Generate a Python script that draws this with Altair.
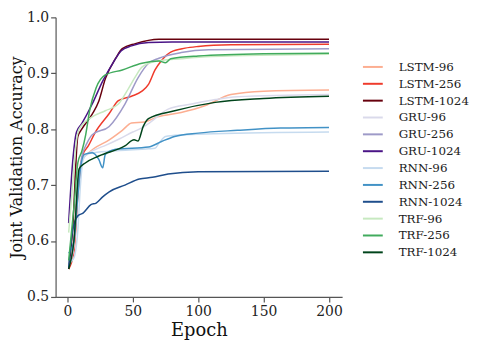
import altair as alt
import pandas as pd

names = ["LSTM-96", "LSTM-256", "LSTM-1024", "GRU-96", "GRU-256", "GRU-1024",
         "RNN-96", "RNN-256", "RNN-1024", "TRF-96", "TRF-256", "TRF-1024"]
colors = ["#fcae91", "#ef3b2c", "#67000d", "#dadaeb", "#9e9ac8", "#4a1486",
          "#c6dbef", "#4292c6", "#1f4e8c", "#c7e9c0", "#41ab5d", "#00441b"]

lstm96_ep = [1, 5, 8, 11, 15, 20, 32, 42, 49, 59, 69, 87, 105, 125, 150, 200]
lstm96_v = [0.55, 0.60, 0.70, 0.745, 0.755, 0.765, 0.781, 0.798, 0.811, 0.813, 0.822, 0.830, 0.842, 0.862, 0.868, 0.870]

lstm256_ep = [1, 5, 8, 10, 12, 16, 21, 32, 39, 49, 57, 62, 67, 72, 79, 90, 100, 125, 200]
lstm256_v = [0.55, 0.58, 0.68, 0.73, 0.755, 0.77, 0.793, 0.828, 0.851, 0.859, 0.868, 0.88, 0.906, 0.923, 0.938, 0.945, 0.948, 0.951, 0.952]

lstm1024_ep = [1, 4, 8, 11, 19, 24, 29, 37, 42, 52, 70, 100, 200]
lstm1024_v = [0.55, 0.62, 0.787, 0.800, 0.827, 0.850, 0.890, 0.927, 0.944, 0.953, 0.961, 0.961, 0.961]

gru96_ep = [1, 5, 8, 11, 15, 20, 30, 40, 50, 55, 62, 77, 95, 113, 130, 200]
gru96_v = [0.555, 0.59, 0.69, 0.745, 0.755, 0.762, 0.772, 0.783, 0.795, 0.80, 0.81, 0.836, 0.845, 0.853, 0.858, 0.862]

gru256_ep = [1, 5, 8, 11, 15, 19, 32, 44, 54, 62, 70, 87, 108, 200]
gru256_v = [0.555, 0.60, 0.70, 0.75, 0.775, 0.79, 0.805, 0.845, 0.892, 0.918, 0.927, 0.937, 0.942, 0.944]

gru1024_ep = [1, 4, 7, 11, 19, 27, 34, 41, 49, 62, 80, 200]
gru1024_v = [0.632, 0.74, 0.795, 0.810, 0.845, 0.886, 0.915, 0.940, 0.949, 0.955, 0.956, 0.956]

rnn96_ep = [1, 5, 8, 10, 12, 15, 20, 40, 62, 67, 70, 75, 87, 112, 200]
rnn96_v = [0.56, 0.57, 0.62, 0.70, 0.745, 0.755, 0.758, 0.762, 0.765, 0.766, 0.775, 0.787, 0.790, 0.792, 0.795]

rnn256_ep = [1, 5, 8, 10, 13, 19, 24, 27, 29, 37, 62, 72, 82, 100, 130, 163, 200]
rnn256_v = [0.578, 0.60, 0.68, 0.73, 0.755, 0.758, 0.746, 0.731, 0.755, 0.764, 0.768, 0.778, 0.787, 0.793, 0.798, 0.802, 0.803]

rnn1024_ep = [1, 4, 8, 12, 18, 22, 27, 32, 44, 55, 65, 77, 100, 200]
rnn1024_v = [0.552, 0.618, 0.645, 0.650, 0.665, 0.668, 0.679, 0.688, 0.700, 0.711, 0.714, 0.720, 0.724, 0.725]

trf96_ep = [1, 4, 7, 9, 19, 29, 39, 47, 52, 57, 67, 87, 110, 200]
trf96_v = [0.615, 0.70, 0.78, 0.80, 0.822, 0.833, 0.845, 0.874, 0.894, 0.911, 0.921, 0.926, 0.930, 0.934]

trf256_ep = [1, 5, 8, 11, 14, 17, 22, 29, 42, 57, 70, 75, 79, 100, 150, 200]
trf256_v = [0.565, 0.66, 0.74, 0.76, 0.79, 0.833, 0.874, 0.897, 0.906, 0.918, 0.922, 0.919, 0.926, 0.931, 0.935, 0.936]

trf1024_ep = [1, 5, 9, 14, 24, 44, 51, 54, 58, 62, 82, 113, 150, 200]
trf1024_v = [0.55, 0.60, 0.729, 0.740, 0.752, 0.770, 0.781, 0.779, 0.805, 0.819, 0.833, 0.848, 0.855, 0.859]

series = [
    (lstm96_ep, lstm96_v), (lstm256_ep, lstm256_v), (lstm1024_ep, lstm1024_v),
    (gru96_ep, gru96_v), (gru256_ep, gru256_v), (gru1024_ep, gru1024_v),
    (rnn96_ep, rnn96_v), (rnn256_ep, rnn256_v), (rnn1024_ep, rnn1024_v),
    (trf96_ep, trf96_v), (trf256_ep, trf256_v), (trf1024_ep, trf1024_v),
]

rows = []
for i, (name, (eps, vals)) in enumerate(zip(names, series)):
    for e, v in zip(eps, vals):
        rows.append({"Model": name, "Epoch": e, "Acc": v, "order": i})
df = pd.DataFrame(rows)

FONT = "DejaVu Serif"

chart = alt.Chart(df).mark_line(strokeWidth=1.5, interpolate="monotone").encode(
    x=alt.X("Epoch:Q", scale=alt.Scale(domain=[-9, 210], nice=False, zero=False),
            axis=alt.Axis(values=[0, 50, 100, 150, 200], title="Epoch", grid=False,
                          titleFontSize=18, titleFontWeight="normal", labelFontSize=14,
                          titlePadding=3, labelPadding=3)),
    y=alt.Y("Acc:Q", scale=alt.Scale(domain=[0.5, 1.0], nice=False, zero=False),
            axis=alt.Axis(values=[0.5, 0.6, 0.7, 0.8, 0.9, 1.0], format=".1f",
                          title="Joint Validation Accuracy", grid=False,
                          titleFontSize=16, titleFontWeight="normal", labelFontSize=14,
                          titlePadding=2, labelPadding=2)),
    color=alt.Color("Model:N", sort=names,
                    scale=alt.Scale(domain=names, range=colors),
                    legend=alt.Legend(title=None, orient="none", legendX=309, legendY=39,
                                      symbolType="stroke", symbolSize=400,
                                      symbolStrokeWidth=2, labelFontSize=12,
                                      labelOffset=15, rowPadding=-1.6,
                                      labelColor="#222222")),
    detail="Model:N",
    order="Epoch:Q",
).properties(
    width=289, height=282,
    autosize=alt.AutoSizeParams(type="none"),
    padding={"left": 48, "top": 8, "right": 130, "bottom": 46},
).configure_view(stroke=None).configure_axis(
    domainColor="#555555", tickColor="#555555", labelColor="#222222",
    titleColor="#111111", labelFont=FONT, titleFont=FONT, tickSize=5,
    domainWidth=1.2, tickWidth=1.2,
).configure_legend(labelFont=FONT)

chart.save("out.html", embed_options={"renderer": "svg", "actions": False})
